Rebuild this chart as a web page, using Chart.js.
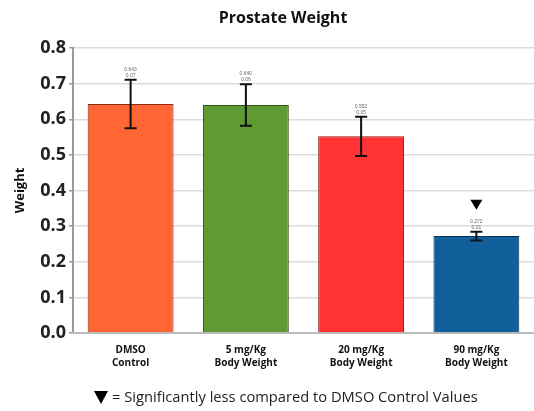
<!DOCTYPE html>
<html>
<head>
<meta charset="utf-8">
<script src="https://cdn.jsdelivr.net/npm/chart.js@4/dist/chart.umd.min.js"></script>
<style>
  html, body { margin: 0; padding: 0; background: #fff; }
  #wrap { width: 534px; height: 411px; }
</style>
</head>
<body>
<div id="wrap"><canvas id="prostateChart"></canvas></div>
<script>
const groups = [['DMSO', 'Control'], ['5 mg/Kg', 'Body Weight'], ['20 mg/Kg', 'Body Weight'], ['90 mg/Kg', 'Body Weight']];
const weights = [0.643, 0.640, 0.552, 0.272];
const errors = [0.068, 0.058, 0.055, 0.012];
const topNotes = ['0.643', '0.640', '0.552', '0.272'];
const sdNotes = ['0.07', '0.06', '0.05', '0.01'];
const significant = [false, false, false, true];
const barColors = ['#ff6633', '#5f9a35', '#ff3333', '#12609b'];
const barBorders = ['#8a2a10', '#2f4f1a', '#8a1010', '#0a3050'];
const yTicks = [0, 0.1, 0.2, 0.3, 0.4, 0.5, 0.6, 0.7, 0.8];

const errorBars = {
    id: 'errorBars',
    afterDatasetsDraw(chart) {
        const ctx = chart.ctx;
        const y = chart.scales.y;
        const bars = chart.getDatasetMeta(0).data;
        bars.forEach((bar, i) => {
            const x = bar.x;
            const hi = y.getPixelForValue(weights[i] + errors[i]);
            const lo = y.getPixelForValue(weights[i] - errors[i]);
            ctx.save();
            ctx.strokeStyle = '#111';
            ctx.lineWidth = 2;
            ctx.beginPath();
            ctx.moveTo(x, hi); ctx.lineTo(x, lo);
            ctx.moveTo(x - 6, hi); ctx.lineTo(x + 6, hi);
            ctx.moveTo(x - 6, lo); ctx.lineTo(x + 6, lo);
            ctx.stroke();
            ctx.fillStyle = '#666';
            ctx.font = '5px "Liberation Sans"';
            ctx.textAlign = 'center';
            ctx.fillText(topNotes[i], x, hi - 9);
            ctx.fillText(sdNotes[i], x, hi - 3);
            if (significant[i]) {
                const t = hi - 26;
                ctx.fillStyle = '#000';
                ctx.beginPath();
                ctx.moveTo(x - 6, t - 6);
                ctx.lineTo(x + 6, t - 6);
                ctx.lineTo(x, t + 4);
                ctx.closePath();
                ctx.fill();
            }
            ctx.restore();
        });
    }
};

// title and footnote are drawn by hand so they sit where the original put them
const captions = {
    id: 'captions',
    afterDraw(chart) {
        const ctx = chart.ctx;
        ctx.save();
        ctx.fillStyle = '#111';
        ctx.font = 'bold 16px "Open Sans"';
        ctx.textAlign = 'center';
        ctx.textBaseline = 'middle';
        ctx.fillText('Prostate Weight', 283, 18);

        ctx.fillStyle = '#000';
        ctx.beginPath();
        ctx.moveTo(94, 391);
        ctx.lineTo(108, 391);
        ctx.lineTo(101, 404);
        ctx.closePath();
        ctx.fill();
        ctx.fillStyle = '#222';
        ctx.font = '14.7px "Open Sans"';
        ctx.textAlign = 'left';
        ctx.fillText('= Significantly less compared to DMSO Control Values', 112, 398);
        ctx.restore();
    }
};

new Chart(document.getElementById('prostateChart'), {
    type: 'bar',
    data: {
        labels: groups,
        datasets: [{
            data: weights,
            backgroundColor: barColors,
            borderColor: barBorders,
            borderWidth: 1,
            categoryPercentage: 1,
            barPercentage: 0.745
        }]
    },
    options: {
        responsive: true,
        maintainAspectRatio: false,
        animation: false,
        layout: { padding: { left: 0, right: 0, top: 48, bottom: 0 } },
        plugins: {
            legend: { display: false },
            tooltip: { enabled: false },
            title: { display: false }
        },
        scales: {
            y: {
                min: 0,
                max: 0.8,
                afterBuildTicks(scale) { scale.ticks = yTicks.map(v => ({ value: v })); },
                afterFit(scale) { scale.width = 73; },
                ticks: {
                    color: '#222',
                    font: { family: 'Open Sans', size: 18, weight: 'bold' },
                    callback: v => v.toFixed(1),
                    padding: 3
                },
                grid: { color: '#dcdcdc', lineWidth: 1.5, tickLength: 4, tickColor: '#999' },
                border: { color: '#999', width: 2 },
                title: {
                    display: true,
                    text: 'Weight',
                    color: '#111',
                    font: { family: 'Open Sans', size: 13, weight: 'bold' },
                    padding: { top: 12, bottom: 0 }
                }
            },
            x: {
                afterFit(scale) { scale.height = 78; },
                ticks: {
                    color: '#111',
                    font: { family: 'Open Sans', size: 10, weight: 'bold', lineHeight: 1.3 },
                    padding: 3
                },
                grid: { display: false },
                border: { color: '#bbb', width: 2 }
            }
        }
    },
    plugins: [errorBars, captions]
});
</script>
</body>
</html>
